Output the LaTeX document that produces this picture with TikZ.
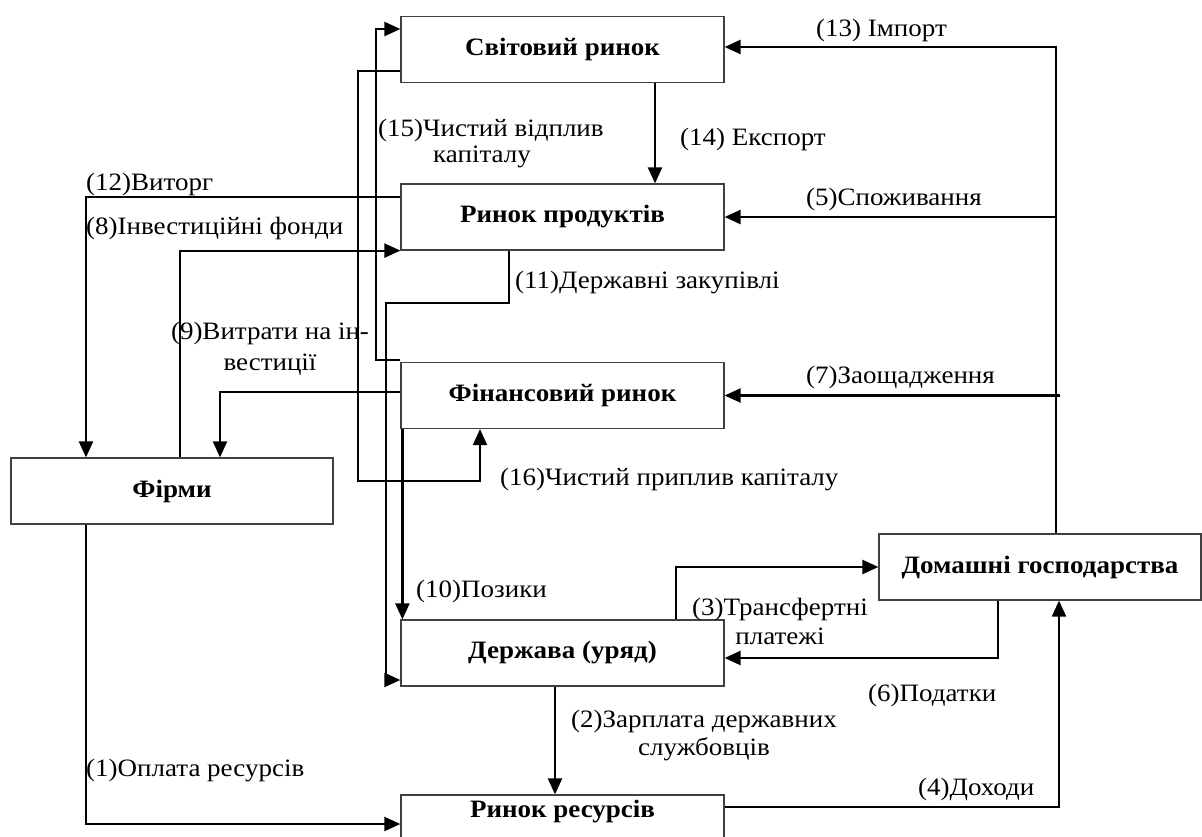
\documentclass[tikz,border=0pt]{standalone}
\usepackage{fontspec}
\setmainfont{Liberation Serif}[FakeStretch=1.08]
\usetikzlibrary{arrows.meta}
\tikzset{
  box/.style={draw=black!75, line width=1.2pt, fill=white, minimum width=323pt, minimum height=66pt, inner sep=0pt, font=\fontsize{25}{29}\selectfont\bfseries},
  arr/.style={line width=2.2pt, -{Triangle[length=16pt,width=14pt]}},
  lbl/.style={anchor=west, inner sep=0pt, font=\fontsize{25}{29}\selectfont},
  lblc/.style={inner sep=0pt, font=\fontsize{25}{29}\selectfont}
}
\begin{document}
\begin{tikzpicture}[x=1pt,y=-1pt]
\useasboundingbox (0,0) rectangle (1202,837);
% boxes
\node[box] (W) at (562.5,49.5) {Світовий ринок};
\node[box] (P) at (562.5,217) {Ринок продуктів};
\node[box] (F) at (562.5,395.5) {Фінансовий ринок};
\node[box, minimum width=322pt] (Fi) at (172,491) {Фірми};
\node[box, minimum width=322pt] (H) at (1040,567) {Домашні господарства};
\node[box] (G) at (562.5,653) {Держава (уряд)};
\node[box] (R) at (562.5,828) {};
\node[inner sep=0pt, font=\fontsize{25}{29}\selectfont\bfseries] (Rt) at ([yshift=16pt]R.center) {Ринок ресурсів};
\coordinate (v) at (1056,0);
\coordinate (g2) at ([xshift=-7.5pt]G.south);
% connectors
\draw[arr] ([xshift=16pt]H.north) |- ([yshift=2.5pt]W.east);
\draw[arr] (P.east -| v) -- (P.east);
\draw[arr] ([xshift=4pt]F.east -| v) -- (F.east);
\draw[arr] ([xshift=92.5pt]W.south) -- ([xshift=92.5pt]P.north);
\draw[arr] ([yshift=20pt]P.west) -| ([xshift=-86pt]Fi.north);
\draw[arr] ([xshift=8pt]Fi.north) |- (P.south west);
\draw[arr] ([yshift=3.5pt]F.west) -| ([xshift=48pt]Fi.north);
\draw[arr] ([yshift=2pt]F.north west) -| (376,29) -- ([yshift=20.5pt]W.west);
\draw[arr] ([yshift=-21.5pt]W.west) -| (358,481) -| ([xshift=-82.5pt]F.south);
\draw[arr] ([xshift=-53.5pt]P.south) |- (386,303) |- ([yshift=-27pt]G.west);
\draw[arr] ([xshift=2pt]F.south west) -- ([xshift=2pt]G.north west);
\draw[arr] ([xshift=113.5pt]G.north) |- (H.west);
\draw[arr] ([xshift=-42pt]H.south) |- ([yshift=-5pt]G.east);
\draw[arr] (g2) -- (g2 |- R.north);
\draw[arr] ([xshift=-86pt]Fi.south) |- (R.west |- 0,824);
\draw[arr] (R.east |- 0,807) -| ([xshift=19pt]H.south);
% labels
\node[lbl] (l13) at (816,30) {(13) Імпорт};
\node[lbl] (l15a) at (378,130) {(15)Чистий відплив};
\node[lbl] (l15b) at (433,157) {капіталу};
\node[lbl] (l14) at (680,139) {(14) Експорт};
\node[lbl] (l12) at (86,184) {(12)Виторг};
\node[lbl] (l5) at (806,199) {(5)Споживання};
\node[lbl] (l8) at (86,228) {(8)Інвестиційні фонди};
\node[lbl] (l11) at (515,283) {(11)Державні закупівлі};
\node[lblc] (l9a) at (270,333) {(9)Витрати на ін-};
\node[lblc] (l9b) at (270,365) {вестиції};
\node[lbl] (l7) at (806,377) {(7)Заощадження};
\node[lbl] (l16) at (500,480) {(16)Чистий приплив капіталу};
\node[lbl] (l10) at (416,591) {(10)Позики};
\node[lblc] (l3a) at (780,609) {(3)Трансфертні};
\node[lblc] (l3b) at (780,636) {платежі};
\node[lbl] (l6) at (868,695) {(6)Податки};
\node[lblc] (l2a) at (704,721) {(2)Зарплата державних};
\node[lblc] (l2b) at (704,749) {службовців};
\node[lbl] (l1) at (86,771) {(1)Оплата ресурсів};
\node[lbl] (l4) at (918,789) {(4)Доходи};
\end{tikzpicture}
\end{document}
